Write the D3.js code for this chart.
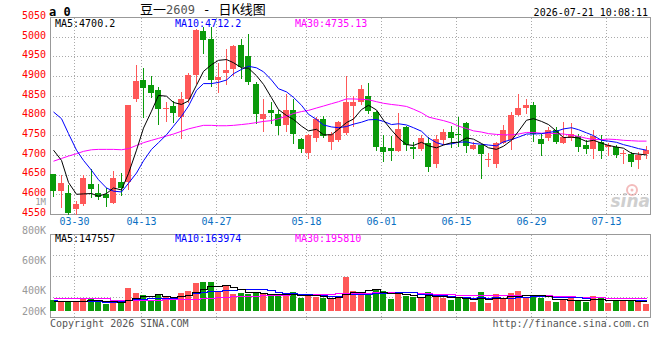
<!DOCTYPE html>
<meta charset="utf-8">
<script src="https://d3js.org/d3.v7.min.js"></script>
<style>
    body { margin: 0; background: #fff; }
    text { font-family: "DejaVu Sans Mono", monospace; font-size: 10px; }
    .grid { stroke: #aaa; stroke-dasharray: 1,2; shape-rendering: crispEdges; }
    .frame { stroke: #999; shape-rendering: crispEdges; }
    .ma { fill: none; stroke-width: 1; }
</style>
<body>
<svg width="660" height="360"></svg>
</body>
<script>
    const openP = [4651,4608,4603,4563,4575,4625,4603,4601,4578,4630,4631,4841,4890,4877,4864,4816,4824,4797,4842,4904,
        5015,4994,4890,4908,4919,4979,4952,4880,4790,4815,4803,4775,4814,4740,4705,4743,4792,4733,4739,4756,
        4824,4835,4849,4809,4720,4718,4710,4771,4720,4716,4729,4676,4737,4757,4753,4782,4716,4725,4687,4676,
        4731,4737,4802,4818,4826,4740,4742,4763,4730,4744,4748,4725,4716,4733,4719,4719,4702,4702,4688,4702];
    const high = [4651,4648,4623,4582,4650,4665,4625,4616,4660,4653,4826,4928,4920,4900,4873,4835,4836,4860,4907,5019,
        5025,5024,4934,4970,4979,4994,5007,4886,4842,4835,4813,4854,4842,4742,4754,4797,4798,4758,4786,4900,
        4849,4877,4883,4812,4750,4747,4807,4773,4733,4750,4746,4750,4767,4773,4795,4783,4733,4727,4705,4733,
        4777,4809,4854,4843,4835,4754,4771,4771,4784,4780,4753,4737,4763,4750,4730,4725,4712,4708,4708,4722];
    const low = [4596,4568,4550,4551,4574,4593,4589,4571,4578,4597,4614,4838,4797,4846,4778,4786,4783,4744,4835,4883,
        4959,4875,4860,4881,4903,4894,4881,4781,4761,4781,4753,4761,4729,4708,4693,4736,4746,4714,4736,4752,
        4773,4830,4807,4712,4685,4686,4710,4712,4693,4712,4659,4669,4727,4719,4722,4708,4714,4642,4672,4669,
        4730,4714,4802,4807,4736,4699,4737,4729,4730,4739,4710,4705,4691,4693,4699,4695,4680,4672,4667,4693];
    const close = [4608,4628,4553,4575,4641,4613,4592,4591,4641,4616,4826,4887,4870,4856,4816,4818,4806,4842,4904,5017,
        4992,4890,4898,4915,4977,4924,4886,4803,4803,4807,4774,4814,4754,4715,4750,4790,4747,4754,4784,4835,
        4835,4866,4812,4720,4708,4710,4765,4725,4714,4744,4669,4740,4757,4743,4751,4722,4725,4702,4689,4731,
        4763,4801,4818,4826,4752,4727,4763,4733,4746,4754,4720,4716,4748,4710,4725,4699,4704,4682,4699,4712];

    const ma5 = [4712,4686,4630,4600,4601,4602,4595,4602,4616,4611,4653,4712,4768,4811,4851,4849,4833,4828,4837,4877,
        4912,4929,4940,4942,4934,4921,4920,4901,4879,4845,4815,4800,4790,4773,4761,4765,4751,4751,4765,4782,
        4791,4815,4826,4814,4788,4763,4743,4726,4724,4732,4723,4718,4725,4731,4732,4743,4740,4729,4718,4714,
        4722,4737,4760,4788,4792,4785,4777,4760,4744,4745,4743,4734,4737,4730,4724,4720,4717,4704,4702,4700];
    const ma10 = [4809,4792,4754,4712,4686,4661,4637,4616,4608,4606,4628,4654,4685,4714,4731,4751,4773,4798,4824,4864,
        4881,4881,4884,4890,4906,4917,4925,4921,4911,4890,4868,4860,4846,4826,4803,4790,4776,4771,4769,4772,
        4778,4783,4789,4790,4785,4777,4779,4776,4769,4760,4743,4731,4726,4728,4732,4733,4729,4727,4725,4723,
        4733,4739,4745,4753,4753,4754,4757,4760,4766,4769,4764,4756,4749,4737,4735,4732,4726,4721,4716,4712];
    const ma30 = [4684,4691,4697,4703,4709,4713,4714,4714,4714,4713,4716,4724,4731,4737,4742,4748,4753,4760,4766,4771,
        4775,4775,4774,4774,4775,4777,4779,4782,4785,4787,4792,4798,4805,4810,4813,4819,4824,4830,4835,4842,
        4842,4841,4840,4835,4831,4828,4826,4823,4816,4807,4796,4791,4787,4781,4773,4767,4761,4758,4754,4752,
        4751,4751,4753,4757,4757,4755,4755,4754,4753,4750,4747,4742,4739,4739,4740,4739,4737,4736,4735,4735];

    const volume = [175,144,155,135,197,186,144,109,129,119,361,279,248,166,264,233,186,279,315,439,
        454,454,299,388,264,284,259,299,279,233,233,259,299,206,233,222,197,186,212,532,
        310,259,284,321,310,186,290,228,212,206,295,217,206,175,206,186,140,295,124,264,
        197,279,310,206,248,206,155,140,186,202,171,144,233,197,124,155,171,171,155,109].map(v => v * 1000);
    const vma5 = [155,152,150,150,161,163,163,154,153,137,172,199,227,235,264,238,219,226,255,290,
        335,388,392,407,372,338,299,299,277,271,261,261,261,246,246,244,231,209,210,270,
        287,300,319,341,297,272,278,267,245,224,246,232,227,220,220,198,183,200,190,202,
        204,232,235,251,248,250,225,191,187,178,171,169,187,189,174,171,176,164,155,148].map(v => v * 1000);
    const vma10 = [165,160,158,155,155,153,150,145,145,149,168,181,191,194,201,205,209,227,245,277,
        287,304,309,331,331,337,344,346,342,322,300,280,280,262,259,253,246,235,228,258,
        266,266,264,276,284,280,289,293,293,261,259,255,247,233,222,222,208,214,205,211,
        201,208,218,221,225,227,229,213,219,213,211,197,189,188,176,171,173,176,172,164].map(v => v * 1000);
    const vma30 = [200,200,199,199,198,198,197,196,172,171,172,173,175,176,178,180,182,185,188,193,
        200,207,213,220,226,231,236,240,245,249,251,255,260,262,263,265,266,269,272,285,
        284,283,284,289,291,289,293,291,288,280,275,267,264,257,255,251,247,247,242,243,
        242,243,243,243,243,243,242,240,239,228,223,220,218,214,208,207,203,201,199,196].map(v => v * 1000);

    const priceTicks = [5050, 5000, 4950, 4900, 4850, 4800, 4750, 4700, 4650, 4600, 4550];
    const dateTickIdx = [3, 12, 22, 34, 44, 54, 64, 74];
    const dateTickLabels = ['03-30', '04-13', '04-27', '05-18', '06-01', '06-15', '06-29', '07-13'];
    const volTickLabels = ['800K', '600K', '400K', '200K'];

    const RED = '#ff5858', GREEN = '#0a9a0a';

    const svg = d3.select('svg');

    const x = d3.scaleBand().domain(d3.range(close.length)).range([50, 650]);
    const y = d3.scaleLinear().domain([4550, 5050]).range([214, 17]);
    const yv = d3.scaleLinear().domain([0, 1200000]).range([311, 233.6]);
    const yvLab = d3.scalePoint().domain(volTickLabels).range([234, 324]);
    const volGrid = d3.scaleLinear().domain([0, 4]).range([317.5, 234.5]);

    const left = i => Math.floor(x(i) + 0.5);
    const mid = i => left(i) + 3.5;
    const gx = i => Math.floor(left(i) + 1) + 0.5;
    const isUp = i => close[i] >= openP[i];
    const idx = d3.range(close.length);

    // sina watermark
    const wm = svg.append('g');
    wm.append('circle').attr('cx', 632).attr('cy', 190).attr('r', 5)
        .attr('fill', 'none').attr('stroke', '#f3bcbc').attr('stroke-width', 2);
    wm.append('circle').attr('cx', 632).attr('cy', 190).attr('r', 1.5).attr('fill', '#f3bcbc');
    wm.append('text').attr('x', 650).attr('y', 207).attr('text-anchor', 'end')
        .style('font-family', 'DejaVu Sans').style('font-size', '17px')
        .style('font-style', 'italic').style('font-weight', 'bold')
        .attr('fill', '#cfcfcf').text('sina');

    // grids
    svg.append('g').selectAll('line')
        .data(priceTicks.slice(1, -1))
        .join('line')
        .attr('class', 'grid')
        .attr('x1', 50).attr('x2', 650)
        .attr('y1', d => Math.round(y(d)) + 0.5)
        .attr('y2', d => Math.round(y(d)) + 0.5);

    svg.append('g').selectAll('line')
        .data(dateTickIdx)
        .join('line')
        .attr('class', 'grid')
        .attr('x1', gx).attr('x2', gx)
        .attr('y1', 18).attr('y2', 214);

    svg.append('g').selectAll('line')
        .data([1, 2, 3])
        .join('line')
        .attr('class', 'grid')
        .attr('x1', 50).attr('x2', 650)
        .attr('y1', d => Math.round(volGrid(d)) + 0.5)
        .attr('y2', d => Math.round(volGrid(d)) + 0.5);

    svg.append('g').selectAll('line')
        .data(dateTickIdx)
        .join('line')
        .attr('class', 'grid')
        .attr('x1', gx).attr('x2', gx)
        .attr('y1', 235).attr('y2', 320);

    // frames
    const frame = (x0, y0, x1, y1) => {
        svg.append('path')
            .attr('class', 'frame')
            .attr('fill', 'none')
            .attr('d', `M${x0},${y0}H${x1}V${y1}H${x0}Z`);
    };
    frame(50.5, 17.5, 650.5, 214.5);
    frame(50.5, 234.5, 650.5, 317.5);

    // candles
    const candles = svg.append('g').attr('shape-rendering', 'crispEdges');
    candles.selectAll('line')
        .data(idx)
        .join('line')
        .attr('x1', mid).attr('x2', mid)
        .attr('y1', i => Math.round(y(high[i])))
        .attr('y2', i => Math.round(y(low[i])) + 1)
        .attr('stroke', i => isUp(i) ? RED : GREEN);
    candles.selectAll('rect')
        .data(idx)
        .join('rect')
        .attr('x', left)
        .attr('width', 6)
        .attr('y', i => Math.round(y(Math.max(openP[i], close[i]))))
        .attr('height', i => Math.max(1, Math.round(y(Math.min(openP[i], close[i]))) - Math.round(y(Math.max(openP[i], close[i])))))
        .attr('fill', i => isUp(i) ? RED : GREEN);

    const priceLine = d3.line().x((d, i) => mid(i)).y(d => y(d));
    [[ma30, '#ff00ff'], [ma10, '#0000ff'], [ma5, '#000']].forEach(([s, c]) => {
        svg.append('path').datum(s).attr('class', 'ma')
            .attr('stroke', c).attr('d', priceLine);
    });

    // volume
    svg.append('g').attr('shape-rendering', 'crispEdges')
        .selectAll('rect')
        .data(idx)
        .join('rect')
        .attr('x', left)
        .attr('width', 6)
        .attr('y', i => Math.round(yv(volume[i])))
        .attr('height', i => 311 - Math.round(yv(volume[i])))
        .attr('fill', i => isUp(i) ? RED : GREEN);

    const volLine = d3.line().x((d, i) => mid(i)).y(d => Math.round(yv(d)) + 0.5).curve(d3.curveStep);
    [[vma30, '#ff00ff'], [vma10, '#0000ff'], [vma5, '#000']].forEach(([s, c]) => {
        svg.append('path').datum(s).attr('class', 'ma')
            .attr('stroke', c).attr('stroke-width', 1.5)
            .attr('shape-rendering', 'crispEdges')
            .attr('d', volLine);
    });

    // axis labels
    svg.append('g').selectAll('text')
        .data(priceTicks)
        .join('text')
        .attr('x', 46).attr('y', d => y(d) + 1.8)
        .attr('text-anchor', 'end')
        .attr('fill', '#f00')
        .text(d => d);

    svg.append('text').attr('x', 46).attr('y', 205).attr('text-anchor', 'end')
        .style('font-size', '9px').attr('fill', '#999').text('1M');

    svg.append('g').selectAll('text')
        .data(dateTickIdx)
        .join('text')
        .attr('x', gx).attr('y', 225)
        .attr('text-anchor', 'middle')
        .attr('fill', '#0a6fc2')
        .text((d, i) => dateTickLabels[i]);

    svg.append('g').selectAll('text')
        .data(volTickLabels)
        .join('text')
        .attr('x', 46).attr('y', d => Math.min(yvLab(d), 315))
        .attr('text-anchor', 'end')
        .attr('fill', '#999')
        .text(d => d);

    // legends
    const legend = (yy, items) => {
        items.forEach(([t, c, xx]) => {
            svg.append('text').attr('x', xx).attr('y', yy).attr('fill', c).text(t);
        });
    };
    legend(27, [['MA5:4700.2', '#000', 55], ['MA10:4712.2', '#0000ff', 175], ['MA30:4735.13', '#ff00ff', 295]]);
    legend(242, [['MA5:147557', '#000', 55], ['MA10:163974', '#0000ff', 175], ['MA30:195810', '#ff00ff', 295]]);

    // header
    svg.append('text').attr('x', 49).attr('y', 16)
        .style('font-size', '12px').style('font-weight', 'bold').text('a 0');

    const title = svg.append('text').attr('x', 140).attr('y', 14)
        .style('font-family', '"Noto Sans CJK SC", sans-serif').style('font-size', '13px');
    title.append('tspan').text('豆一');
    title.append('tspan').attr('fill', '#555')
        .style('font-family', '"DejaVu Sans Mono", monospace').style('font-size', '12px').text('2609');
    title.append('tspan').style('font-family', '"DejaVu Sans Mono", monospace').text(' - ');
    title.append('tspan').text('日K线图');

    svg.append('text').attr('x', 648).attr('y', 16).attr('text-anchor', 'end')
        .text('2026-07-21 10:08:11');

    svg.append('text').attr('x', 50).attr('y', 327).attr('fill', '#555')
        .text('Copyright 2026 SINA.COM');
    svg.append('text').attr('x', 649).attr('y', 327).attr('text-anchor', 'end').attr('fill', '#555')
        .text('http://finance.sina.com.cn');
</script>
